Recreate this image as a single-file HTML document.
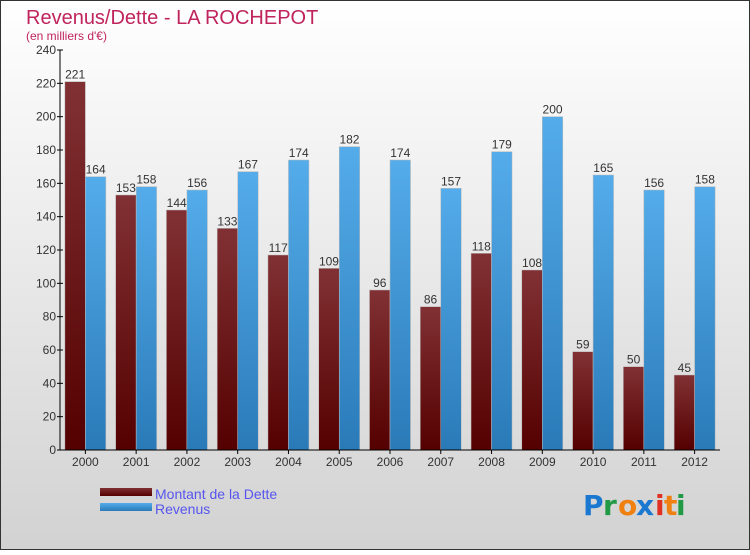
<!DOCTYPE html>
<html><head><meta charset="utf-8"><style>
html,body{margin:0;padding:0}
body{width:750px;height:550px;overflow:hidden;font-family:"Liberation Sans",sans-serif}
</style></head><body>
<svg id="chart" width="750" height="550" xmlns="http://www.w3.org/2000/svg">
<defs>
<linearGradient id="bg" x1="0" y1="0" x2="0" y2="1"><stop offset="0" stop-color="#ffffff"/><stop offset="1" stop-color="#d2d2d2"/></linearGradient>
<linearGradient id="gd" x1="0" y1="0" x2="0" y2="1"><stop offset="0" stop-color="#813134"/><stop offset="1" stop-color="#550000"/></linearGradient>
<linearGradient id="gr" x1="0" y1="0" x2="0" y2="1"><stop offset="0" stop-color="#55acea"/><stop offset="1" stop-color="#2a7ab8"/></linearGradient>
</defs>
<rect x="0.5" y="0.5" width="749" height="549" fill="url(#bg)" stroke="#333"/>
<text x="26" y="24" font-size="20" fill="#c0245c">Revenus/Dette - LA ROCHEPOT</text>
<text x="26" y="40" font-size="12" fill="#c0245c">(en milliers d'€)</text>
<g id="grid"></g>
<g id="bars"></g>
<g id="axes"></g>
<g>
<rect x="100" y="488" width="52" height="8" fill="url(#gd)"/>
<text x="155" y="499" font-size="14" fill="#5555ee">Montant de la Dette</text>
<rect x="100" y="503" width="52" height="8" fill="url(#gr)"/>
<text x="155" y="514" font-size="14" fill="#5555ee">Revenus</text>
</g>
<g font-size="28" font-weight="bold" font-family="'DejaVu Sans',sans-serif">
<text x="583" y="515" fill="#1a78d0">P</text><text x="603" y="515" fill="#229944">r</text><text x="618" y="515" fill="#f08010">o</text><text x="636" y="515" fill="#1a78d0">x</text><text x="655" y="515" fill="#e03020">i</text><text x="664" y="515" fill="#f08010">t</text><text x="676" y="515" fill="#229944">i</text>
</g>
</svg>
<script>
const categories=["2000","2001","2002","2003","2004","2005","2006","2007","2008","2009","2010","2011","2012"];
const dette=[221,153,144,133,117,109,96,86,118,108,59,50,45];
const revenus=[164,158,156,167,174,182,174,157,179,200,165,156,158];
const yTicks=[0,20,40,60,80,100,120,140,160,180,200,220,240];
const NS="http://www.w3.org/2000/svg";
const x0=60,x1=720,y0=450,y1=50,ymax=240;
const band=(x1-x0)/categories.length;
const y=v=>y0-(v/ymax)*(y0-y1);
const cx=i=>x0+band*(i+0.5);
function mk(t,a,p){const e=document.createElementNS(NS,t);for(const k in a)e.setAttribute(k,a[k]);p.appendChild(e);return e;}
const axes=document.getElementById('axes'),bars=document.getElementById('bars');
const ya=mk('line',{x1:x0,y1:y1,x2:x0,y2:y0,stroke:'#000'},axes);


const xa=mk('line',{x1:x0,y1:y0,x2:x1,y2:y0,stroke:'#000'},axes);


yTicks.forEach(v=>{
 mk('line',{x1:x0-3,y1:y(v),x2:x0+3,y2:y(v),stroke:'#000'},axes);
 const t=mk('text',{x:x0-4,y:y(v)+4,'font-size':12,fill:'#333','text-anchor':'end'},axes);
 t.textContent=v;
 
 
});
const bw=20.5;
categories.forEach((c,i)=>{
 const x=cx(i);
 mk('line',{x1:x,y1:y0,x2:x,y2:y0+4,stroke:'#000'},axes);
 const t=mk('text',{x:x,y:y0+16,'font-size':12,fill:'#333','text-anchor':'middle'},axes);
 t.textContent=c;
 
 
 const b1=mk('rect',{x:x-bw,y:y(dette[i]),width:bw,height:y0-y(dette[i]),fill:'url(#gd)',stroke:'#bbb','stroke-width':0.5},bars);
 
 
 const b2=mk('rect',{x:x,y:y(revenus[i]),width:bw,height:y0-y(revenus[i]),fill:'url(#gr)',stroke:'#bbb','stroke-width':0.5},bars);
 
 
 const l1=mk('text',{x:x-bw/2,y:y(dette[i])-3,'font-size':12,fill:'#333','text-anchor':'middle'},bars);
 l1.textContent=dette[i];
 
 
 const l2=mk('text',{x:x+bw/2,y:y(revenus[i])-3,'font-size':12,fill:'#333','text-anchor':'middle'},bars);
 l2.textContent=revenus[i];
 
 
});
</script>
</body></html>
